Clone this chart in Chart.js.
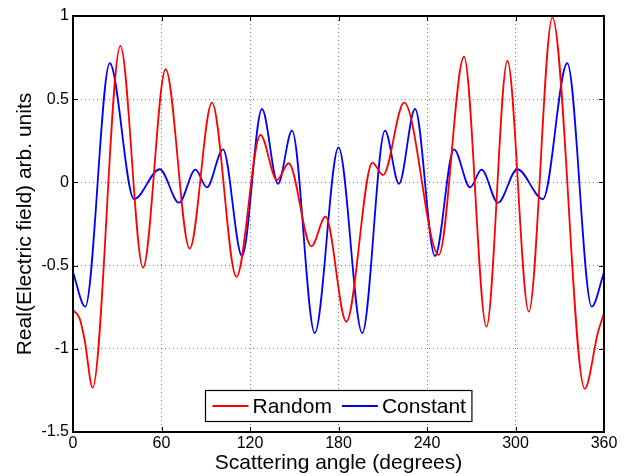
<!DOCTYPE html>
<html>
<head>
<meta charset="utf-8">
<title>Scattered field</title>
<script src="https://cdn.jsdelivr.net/npm/chart.js@4/dist/chart.umd.min.js"></script>
<style>
  body { margin: 0; background: #fff; }
  canvas { display: block; }
</style>
</head>
<body>
<canvas id="myChart" width="628" height="476"></canvas>
<script>
'use strict';

// <------------------ DATA ------------------>

let randomAngle = [0, 4.5, 7.9, 13.3, 32.1, 47.5, 62.8, 79.1, 94.2, 110.8, 127.1, 138.3, 146.2, 161.6, 171.2, 185.3, 203, 210.2, 224.5, 248, 265.1, 280.3, 294.5, 309, 325, 346.9, 356, 360];
let randomField = [-0.768, -0.817, -0.947, -1.233, 0.82, -0.512, 0.68, -0.398, 0.479, -0.567, 0.285, 0.014, 0.115, -0.384, -0.206, -0.837, 0.118, 0.044, 0.479, -0.436, 0.755, -0.867, 0.731, -0.777, 0.992, -1.24, -0.897, -0.787];

let constantAngle = [0, 8.3, 24.9, 41.4, 58.8, 71.9, 83, 90.8, 101.7, 114.6, 128.1, 139, 148.5, 163.9, 180, 196.1, 211.5, 221, 231.9, 245.4, 258.3, 269.2, 277, 288.1, 301.2, 318.6, 335.1, 351.7, 360];
let constantField = [-0.54, -0.747, 0.716, -0.1, 0.079, -0.122, 0.077, -0.03, 0.199, -0.442, 0.441, -0.008, 0.311, -0.905, 0.21, -0.905, 0.311, -0.008, 0.441, -0.442, 0.199, -0.03, 0.077, -0.122, 0.079, -0.1, 0.716, -0.747, -0.54];

let xTickLabels = ['0', '60', '120', '180', '240', '300', '360'];
let yTickLabels = ['-1.5', '-1', '-0.5', '0', '0.5', '1'];

let seriesNames = ['Random', 'Constant'];
let seriesColors = ['#ff0000', '#0000ff'];

const FONT = 'Arial, "Liberation Sans", Helvetica, sans-serif';


// <------------------ HELPERS ------------------>

function toPoints(xs, ys) {
  let pts = [];
  for (let i = 0; i < xs.length; i++) {
    pts.push({ x: xs[i], y: ys[i] });
  }
  return pts;
}


// matlab style box, inward tick marks and legend inside the axes
const matlabAxes = {
  id: 'matlabAxes',
  afterDatasetsDraw(chart) {
    let ctx = chart.ctx;
    let area = chart.chartArea;
    let xs = chart.scales.x;
    let ys = chart.scales.y;
    let tick = 5;

    ctx.save();
    ctx.strokeStyle = '#000';
    ctx.lineWidth = 1;
    ctx.beginPath();
    xTickLabels.forEach(function (lbl) {
      let px = Math.round(xs.getPixelForValue(Number(lbl))) + 0.5;
      ctx.moveTo(px, area.bottom);
      ctx.lineTo(px, area.bottom - tick);
      ctx.moveTo(px, area.top);
      ctx.lineTo(px, area.top + tick);
    });
    yTickLabels.forEach(function (lbl) {
      let py = Math.round(ys.getPixelForValue(Number(lbl))) + 0.5;
      ctx.moveTo(area.left, py);
      ctx.lineTo(area.left + tick, py);
      ctx.moveTo(area.right, py);
      ctx.lineTo(area.right - tick, py);
    });
    ctx.stroke();

    ctx.lineWidth = 2;
    ctx.strokeRect(area.left, area.top, area.right - area.left, area.bottom - area.top);

    // legend
    ctx.font = '21px ' + FONT;
    let lineLen = 36;
    let gapLine = 4;
    let gapItem = 10;
    let padL = 7;
    let padR = 6;
    let widths = seriesNames.map(function (n) { return ctx.measureText(n).width; });
    let boxW = padL + padR + gapItem * (seriesNames.length - 1);
    widths.forEach(function (w) { boxW += lineLen + gapLine + w; });
    let boxH = 31;
    let boxX = Math.round((area.left + area.right) / 2 - boxW / 2) + 0.5;
    let boxY = Math.round(area.bottom - 11 - boxH) + 0.5;

    ctx.fillStyle = '#fff';
    ctx.fillRect(boxX, boxY, boxW, boxH);
    ctx.lineWidth = 1.2;
    ctx.strokeStyle = '#000';
    ctx.strokeRect(boxX, boxY, boxW, boxH);

    let cx = boxX + padL;
    let cy = boxY + boxH / 2;
    ctx.textBaseline = 'middle';
    ctx.textAlign = 'left';
    for (let i = 0; i < seriesNames.length; i++) {
      ctx.strokeStyle = seriesColors[i];
      ctx.lineWidth = 2;
      ctx.beginPath();
      ctx.moveTo(cx, cy);
      ctx.lineTo(cx + lineLen, cy);
      ctx.stroke();
      cx += lineLen + gapLine;
      ctx.fillStyle = '#000';
      ctx.fillText(seriesNames[i], cx, cy + 1);
      cx += widths[i] + gapItem;
    }
    ctx.restore();
  }
};


// <------------------ CHART ------------------>

let ctx = document.getElementById('myChart').getContext('2d');

let gridColor = function (c) {
  // skip the lines that sit on the box
  if (c.index === 0 || c.index === c.scale.ticks.length - 1) {
    return 'rgba(0,0,0,0)';
  }
  return 'rgba(0,0,0,0.5)';
};

let myChartObj = {
  type: 'line',
  data: {
    datasets: [{
      label: seriesNames[0],
      data: toPoints(randomAngle, randomField),
      borderColor: seriesColors[0],
      borderWidth: 1.8,
      pointRadius: 0,
      fill: false,
      cubicInterpolationMode: 'monotone'
    },
    {
      label: seriesNames[1],
      data: toPoints(constantAngle, constantField),
      borderColor: seriesColors[1],
      borderWidth: 1.8,
      pointRadius: 0,
      fill: false,
      cubicInterpolationMode: 'monotone'
    }]
  },
  options: {
    responsive: false,
    animation: false,
    devicePixelRatio: 1,
    layout: {
      padding: { top: 16, right: 24, left: 0, bottom: 0 }
    },
    plugins: {
      legend: { display: false },
      tooltip: { enabled: false }
    },
    scales: {
      x: {
        type: 'linear',
        min: 0,
        max: 360,
        afterBuildTicks: function (scale) {
          scale.ticks = xTickLabels.map(function (l) { return { value: Number(l) }; });
        },
        afterFit: function (scale) {
          scale.height = 44;
        },
        ticks: {
          padding: 2,
          color: '#000',
          font: { family: FONT, size: 16 },
          maxRotation: 0,
          callback: function (v, i) { return xTickLabels[i]; }
        },
        grid: {
          drawTicks: false,
          color: gridColor
        },
        border: { display: false, dash: [1, 3] },
        title: {
          display: true,
          text: 'Scattering angle (degrees)',
          color: '#000',
          font: { family: FONT, size: 21 },
          padding: { top: 0, bottom: 0 }
        }
      },
      y: {
        type: 'linear',
        min: -1.5,
        max: 1,
        afterBuildTicks: function (scale) {
          scale.ticks = yTickLabels.map(function (l) { return { value: Number(l) }; });
        },
        afterFit: function (scale) {
          scale.width = 73;
        },
        ticks: {
          padding: 4,
          color: '#000',
          font: { family: FONT, size: 16 },
          callback: function (v, i) { return yTickLabels[i]; }
        },
        grid: {
          drawTicks: false,
          color: gridColor
        },
        border: { display: false, dash: [1, 3] },
        title: {
          display: true,
          text: 'Real(Electric field) arb. units',
          color: '#000',
          font: { family: FONT, size: 21 },
          padding: { top: 13, bottom: 0 }
        }
      }
    }
  },
  plugins: [matlabAxes]
};

const myChart = new Chart(ctx, myChartObj);
</script>
</body>
</html>
